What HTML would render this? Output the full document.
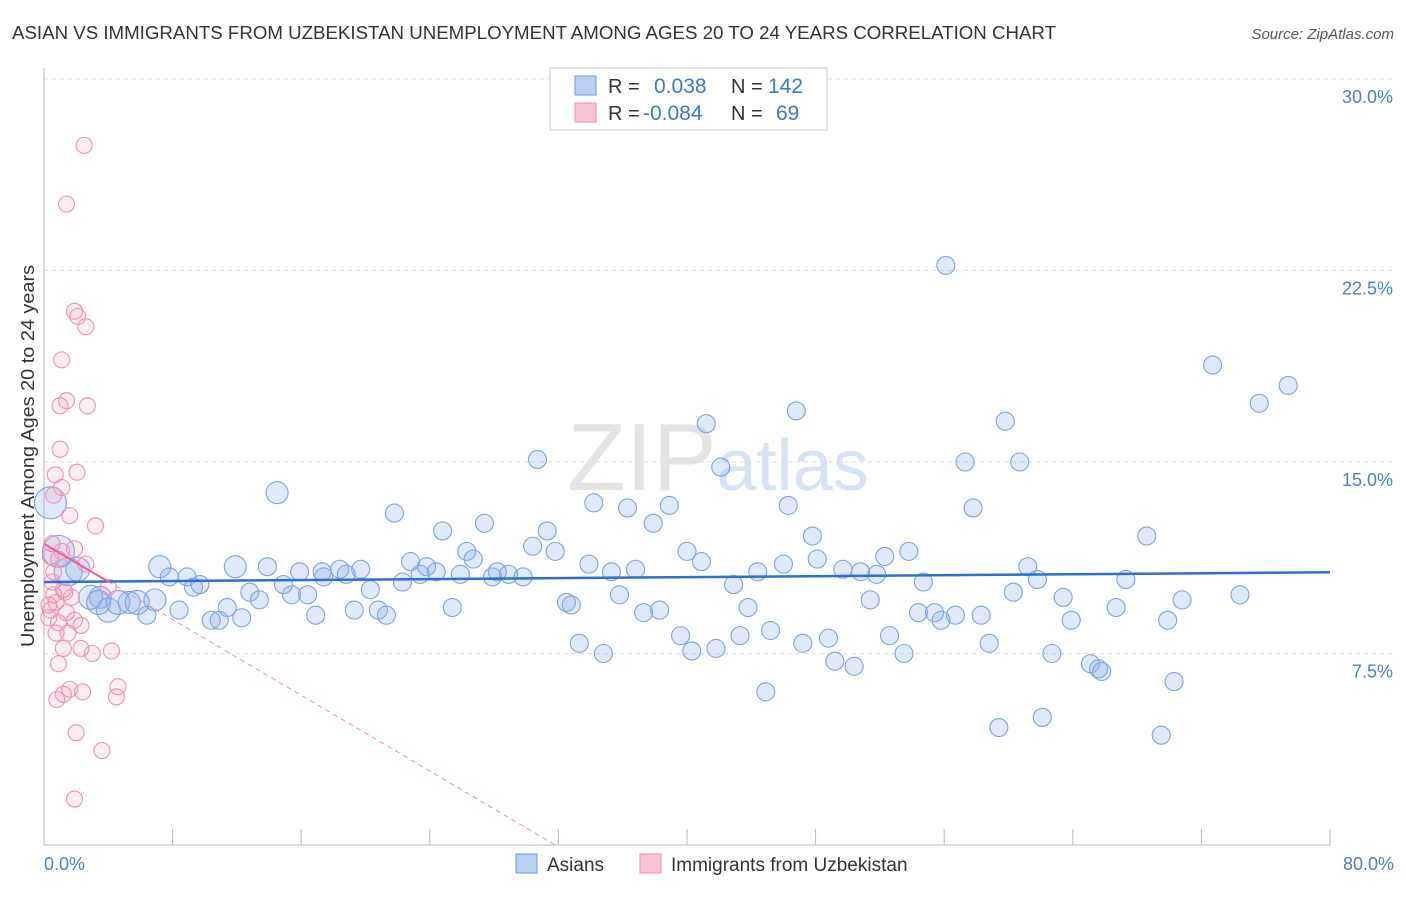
<!DOCTYPE html>
<html><head><meta charset="utf-8"><style>
body{margin:0;background:#fff;font-family:"Liberation Sans",sans-serif;}
svg text{font-family:"Liberation Sans",sans-serif;}
</style></head><body>
<svg id="chart" width="1406" height="892" xmlns="http://www.w3.org/2000/svg">
<text x="12" y="39" font-size="18" fill="#333" textLength="1044" lengthAdjust="spacingAndGlyphs">ASIAN VS IMMIGRANTS FROM UZBEKISTAN UNEMPLOYMENT AMONG AGES 20 TO 24 YEARS CORRELATION CHART</text>
<text x="1394" y="39" font-size="15" fill="#555" text-anchor="end" font-style="italic">Source: ZipAtlas.com</text>
<text x="718" y="490" font-size="96" text-anchor="middle" fill="#e4e4e4" font-family="Liberation Serif">ZIP<tspan fill="#d6e3f5" font-family="Liberation Sans" font-size="72">atlas</tspan></text>
<g id="grid"></g>
<g id="axes"></g>
<g id="blue"></g>
<g id="pink"></g>
<g id="trend"></g>
<text transform="translate(34,456) rotate(-90)" font-size="18" fill="#333" text-anchor="middle" textLength="382" lengthAdjust="spacingAndGlyphs">Unemployment Among Ages 20 to 24 years</text>
<text x="44" y="870" font-size="18" fill="#4a7fd4">0.0%</text>
<text x="1394" y="870" font-size="18" fill="#4a7fd4" text-anchor="end">80.0%</text>
<g>
<rect x="550" y="68" width="277" height="62" fill="#fff" stroke="#ccc"/>
<rect x="575" y="76" width="21" height="19" fill="#b9d0f3" stroke="#6f9be0"/>
<rect x="575" y="103" width="21" height="19" fill="#f8c3d5" stroke="#f08cb0"/>
<text x="608" y="93" font-size="20" fill="#333">R =</text>
<text x="654" y="93" font-size="21" fill="#3a78d4">0.038</text>
<text x="731" y="93" font-size="20" fill="#333">N =</text>
<text x="768" y="93" font-size="21" fill="#3a78d4">142</text>
<text x="608" y="120" font-size="20" fill="#333">R =</text>
<text x="643" y="120" font-size="21" fill="#3a78d4">-0.084</text>
<text x="731" y="120" font-size="20" fill="#333">N =</text>
<text x="776" y="120" font-size="21" fill="#3a78d4">69</text>
</g>
<g>
<rect x="516" y="854" width="21" height="19" fill="#b9d0f3" stroke="#6f9be0"/>
<text x="547" y="871" font-size="19" fill="#333">Asians</text>
<rect x="640" y="854" width="21" height="19" fill="#f8c3d5" stroke="#f08cb0"/>
<text x="671" y="871" font-size="19" fill="#333">Immigrants from Uzbekistan</text>
</g>
</svg>
<script>
const yTicks=[7.5,15.0,22.5,30.0];
const xTicks=[8,16,24,32,40,48,56,64,72,80];
const asiansX=[56.1,72.7,77.4,75.6,46.8,41.2,59.8,30.7,57.3,60.7,42.1,14.5,34.2,46.3,38.9,36.3,57.8,21.8,27.4,37.9,24.8,31.3,47.8,68.6,30.4,31.8,26.3,40.0,52.3,53.8,48.1,22.8,26.7,33.9,40.9,61.2,7.2,11.9,13.9,46.0,49.7,50.8,51.8,44.4,36.8,35.3,7.8,8.9,15.9,17.4,18.4,19.7,18.8,17.3,23.8,24.4,23.4,22.3,25.9,27.9,28.2,28.9,29.8,61.8,67.3,42.9,54.7,9.7,9.3,14.9,20.3,12.8,15.4,16.4,13.4,35.8,60.3,51.4,63.4,70.8,74.4,6.9,5.3,3.5,32.5,32.8,43.8,66.7,11.4,8.4,19.3,20.8,25.4,54.4,55.4,56.7,58.3,37.3,38.3,55.8,16.9,21.3,6.4,10.4,10.9,12.3,63.9,69.9,45.2,39.6,43.3,52.6,48.8,58.8,33.3,47.2,34.8,40.3,41.8,53.5,62.7,49.2,50.4,65.1,65.6,65.8,70.3,44.9,62.1,59.4,69.5,0.4,0.9,1.5,2.9,4.0,3.4,4.6,5.8,2.1];
const asiansY=[22.7,18.8,18.0,17.3,17.0,16.5,16.6,15.1,15.0,15.0,14.8,13.8,13.4,13.3,13.3,13.2,13.2,13.0,12.6,12.6,12.3,12.3,12.1,12.1,11.7,11.5,11.5,11.5,11.3,11.5,11.2,11.1,11.2,11.0,11.1,10.9,10.9,10.9,10.9,11.0,10.8,10.7,10.6,10.7,10.8,10.7,10.5,10.5,10.7,10.5,10.8,10.8,10.6,10.7,10.9,10.7,10.6,10.3,10.6,10.5,10.7,10.6,10.5,10.4,10.4,10.2,10.3,10.2,10.1,10.2,10.0,9.9,9.8,9.8,9.6,9.8,9.9,9.6,9.7,9.6,9.8,9.6,9.5,9.7,9.5,9.4,9.3,9.3,9.3,9.2,9.2,9.2,9.3,9.1,9.1,9.0,9.0,9.1,9.2,8.8,9.0,9.0,9.0,8.8,8.8,8.9,8.8,8.8,8.4,8.2,8.2,8.2,8.1,7.9,7.9,7.9,7.5,7.6,7.7,7.5,7.5,7.2,7.0,7.1,6.9,6.8,6.4,6.0,5.0,4.6,4.3,13.4,11.5,10.7,9.7,9.2,9.5,9.5,9.5,10.8];
const asiansR=[9,9,9,9,9,9,9,9,9,9,9,11,9,9,9,9,9,9,9,9,9,9,9,9,9,9,9,9,9,9,9,9,9,9,9,9,11,11,9,9,9,9,9,9,9,9,9,9,9,9,9,9,9,9,9,9,9,9,9,9,9,9,9,9,9,9,9,9,9,9,9,9,9,9,9,9,9,9,9,9,9,11,11,11,9,9,9,9,9,9,9,9,9,9,9,9,9,9,9,9,9,9,9,9,9,9,9,9,9,9,9,9,9,9,9,9,9,9,9,9,9,9,9,9,9,9,9,9,9,9,9,16,16,14,12,12,12,12,12,12];
const uzbX=[2.5,1.4,1.9,2.6,2.1,1.1,1.0,1.4,2.7,1.0,0.7,2.05,1.1,0.6,1.6,3.2,0.5,1.1,1.9,2.6,0.9,0.6,4.0,1.2,0.6,1.7,0.75,0.4,1.4,1.9,0.9,2.3,0.75,1.5,1.2,2.3,3.0,4.2,0.9,4.6,1.6,1.2,2.4,0.8,4.5,2.0,3.6,1.9,0.3,0.5,0.3,1.3,0.4];
const uzbY=[27.4,25.1,20.9,20.3,20.7,19.0,17.2,17.4,17.2,15.5,14.5,14.6,14.0,13.7,12.9,12.5,11.8,11.5,11.6,11.0,11.2,10.7,10.1,10.0,9.8,9.7,9.5,9.2,9.1,8.8,8.7,8.6,8.3,8.3,7.7,7.7,7.5,7.6,7.1,6.2,6.1,5.9,6.0,5.7,5.8,4.4,3.7,1.8,9.4,10.3,8.9,9.9,11.3];
const asianTrend=[10.3,10.68];
const uzbTrend=[11.8,-0.371];
const NS="http://www.w3.org/2000/svg";
const X0=44,X1=1330,YB=845,YT=79;
function sx(v){return X0+(v/80)*(X1-X0);}
function sy(v){return YB-(v/30)*(YB-YT);}
function mk(tag,attrs,parent){const e=document.createElementNS(NS,tag);for(const k in attrs)e.setAttribute(k,attrs[k]);parent.appendChild(e);return e;}
const grid=document.getElementById('grid'),axes=document.getElementById('axes');
yTicks.forEach(t=>{
 const l=mk('line',{x1:X0,x2:1394,y1:sy(t),y2:sy(t),stroke:'#ddd','stroke-dasharray':'4,4'},grid);
 
 
 const tx=mk('text',{x:1393,y:sy(t)+24,'font-size':18,fill:'#4a7fd4','text-anchor':'end'},grid);
 tx.textContent=t.toFixed(1)+'%';
 
 
});
const ya=mk('line',{x1:X0,x2:X0,y1:68,y2:YB,stroke:'#bbb'},axes);


const xa=mk('line',{x1:X0,x2:X1,y1:YB,y2:YB,stroke:'#bbb'},axes);


xTicks.forEach(t=>{
 const l=mk('line',{x1:sx(t),x2:sx(t),y1:YB,y2:YB-16,stroke:'#bbb'},axes);
 
 
});
const blue=document.getElementById('blue');
asiansX.forEach((v,i)=>{
 const c=mk('circle',{cx:sx(v),cy:sy(asiansY[i]),r:asiansR[i],fill:'rgba(140,175,235,0.28)',stroke:'#7ba3e3','stroke-width':1.1},blue);
 
 
});
const pink=document.getElementById('pink');
uzbX.forEach((v,i)=>{
 const c=mk('circle',{cx:sx(v),cy:sy(uzbY[i]),r:8,fill:'rgba(245,160,190,0.2)',stroke:'#f290b4','stroke-width':1.1},pink);
 
 
});
const tr=document.getElementById('trend');
const bl=mk('line',{x1:sx(0),y1:sy(asianTrend[0]),x2:sx(80),y2:sy(asianTrend[1]),stroke:'#2d6fd6','stroke-width':2.5},tr);


const pz=-uzbTrend[0]/uzbTrend[1];
const pd=mk('line',{x1:sx(4),y1:sy(uzbTrend[0]+uzbTrend[1]*4),x2:sx(pz),y2:sy(0),stroke:'#f08cb0','stroke-width':1,'stroke-dasharray':'5,4'},tr);


const ps=mk('line',{x1:sx(0),y1:sy(uzbTrend[0]),x2:sx(4),y2:sy(uzbTrend[0]+uzbTrend[1]*4),stroke:'#e8608f','stroke-width':2},tr);


</script>
</body></html>
